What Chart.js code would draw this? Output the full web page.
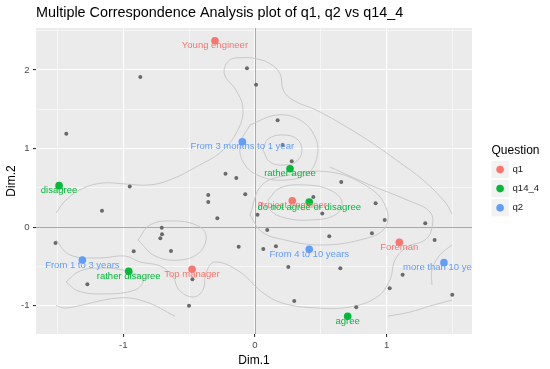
<!DOCTYPE html>
<html><head><meta charset="utf-8">
<script src="https://cdn.jsdelivr.net/npm/chart.js@4.4.0/dist/chart.umd.min.js"></script>
<style>html,body{margin:0;padding:0;background:#fff}</style>
</head><body>
<canvas id="c" width="550" height="369"></canvas>
<script>
// ---- data ----
const q1Cats = ['Young engineer', 'Project engineer', 'Top manager', 'Foreman'];
const q1Dim1 = [-0.304, 0.283, -0.478, 1.096];
const q1Dim2 = [2.372, 0.336, -0.537, -0.193];

const q14Cats = ['disagree', 'rather agree', 'do not agree or disagree', 'rather disagree', 'agree'];
const q14Dim1 = [-1.488, 0.266, 0.412, -0.959, 0.704];
const q14Dim2 = [0.527, 0.743, 0.319, -0.563, -1.135];

const q2Cats = ['From 3 months to 1 year', 'From 4 to 10 years', 'more than 10 years', 'From 1 to 3 years'];
const q2Dim1 = [-0.096, 0.412, 1.435, -1.311];
const q2Dim2 = [1.087, -0.283, -0.453, -0.419];

const indDim1 = [-0.061, 0.008, -0.871, -1.433, 0.172, -0.224, -0.142, -0.951, -0.355, -0.355, -0.074, 0.210, 0.279, 0.655, 0.443,
  -1.162, -0.286, 0.019, 0.093, -0.708, -0.706, -0.719, -1.515, -0.921, -0.638, -0.124, 0.063, 0.159, -1.273, -0.475, -0.501,
  0.916, 0.511, 0.985, 1.293, 0.888, 0.564, 1.364, 0.253, 0.648, 1.121, 1.023, 1.498, 0.298, 0.769];
const indDim2 = [2.021, 1.812, 1.910, 1.189, 1.359, 0.678, 0.625, 0.517, 0.409, 0.319, 0.417, 1.045, 0.837, 0.574, 0.383,
  0.209, 0.112, 0.158, -0.037, -0.008, -0.092, -0.143, -0.202, -0.308, -0.304, -0.249, -0.279, -0.244, -0.728, -0.664, -1.000,
  0.303, 0.173, 0.090, 0.048, -0.079, -0.116, -0.164, -0.508, -0.524, -0.606, -0.779, -0.860, -0.941, -1.021];

// density contour lines (data units)
const contourOuterX = [-1.511, -1.435, -1.308, -1.156, -0.987, -0.805, -0.653, -0.448, -0.245, -0.119, -0.093, -0.144, -0.233, -0.195, -0.093, 0.008, 0.114, 0.190, 0.215, 0.291, 0.468, 0.696, 0.898, 1.076, 1.278, 1.443, 1.496];
const contourOuterY = [0.179, 0.345, 0.491, 0.561, 0.549, 0.536, 0.596, 0.765, 0.977, 1.274, 1.529, 1.741, 1.952, 2.123, 2.156, 2.143, 2.080, 1.952, 1.741, 1.614, 1.487, 1.274, 1.061, 0.850, 0.596, 0.319, 0.167];
const contourPeakX = [0.061, 0.099, 0.213, 0.319, 0.357, 0.319, 0.228, 0.114, 0.061];
const contourPeakY = [0.981, 1.121, 1.172, 1.121, 0.981, 0.841, 0.790, 0.828, 0.981];
const contourRingX = [-0.038, 0.167, 0.342, 0.456, 0.471, 0.395, 0.228, 0.053, -0.076, -0.114, -0.038];
const contourRingY = [1.300, 1.427, 1.363, 1.147, 0.892, 0.676, 0.599, 0.638, 0.791, 1.045, 1.300];
const contourMidLeftX = [-0.888, -0.797, -0.630, -0.448, -0.372, -0.418, -0.569, -0.759, -0.888];
const contourMidLeftY = [-0.164, 0.027, 0.078, 0.027, -0.100, -0.317, -0.419, -0.368, -0.164];
const contourLowLeftX = [-1.435, -1.329, -1.147, -0.949, -0.850, -0.911, -1.147, -1.344, -1.435];
const contourLowLeftY = [-0.699, -0.559, -0.521, -0.571, -0.673, -0.800, -0.851, -0.813, -0.699];
const contourCoreX = [0.099, 0.190, 0.380, 0.569, 0.661, 0.608, 0.418, 0.228, 0.114, 0.099];
const contourCoreY = [0.345, 0.498, 0.536, 0.472, 0.319, 0.154, 0.090, 0.116, 0.218, 0.345];
const contourCentreX = [-0.038, 0.053, 0.266, 0.569, 0.835, 0.987, 0.987, 0.797, 0.494, 0.228, 0.053, -0.038];
const contourCentreY = [0.154, 0.536, 0.663, 0.701, 0.536, 0.281, -0.011, -0.164, -0.228, -0.164, -0.062, 0.154];
const contourLowerX = [-1.511, -1.405, -1.177, -0.987, -0.873, -0.721, -0.623, -0.577, -0.471, -0.395, -0.372, -0.304, -0.114, 0.053, 0.205, 0.471, 0.721, 0.926, 1.025, 1.063, 1.154, 1.291, 1.344, 1.329, 1.154, 0.873, 0.569];
const contourLowerY = [-0.165, -0.355, -0.393, -0.368, -0.444, -0.495, -0.635, -0.801, -0.890, -0.801, -0.584, -0.444, -0.571, -0.826, -0.966, -1.030, -1.017, -0.890, -0.673, -0.419, -0.253, -0.164, -0.011, 0.192, 0.345, 0.536, 0.765];
const contourBottomLeftX = [-1.511, -1.435, -1.033, -0.828, -0.607];
const contourBottomLeftY = [-1.000, -1.030, -0.902, -0.953, -1.135];
const contourBottomRightX = [1.010, 1.177, 1.329, 1.496];
const contourBottomRightY = [-1.133, -1.082, -1.005, -0.929];
const contourRightX = [1.496, 1.405, 1.344, 1.344];
const contourRightY = [-0.227, -0.354, -0.546, -0.737];

const groupNames = ['q1', 'q14_4', 'q2'];
const xMajor = [-1, 0, 1];
const xMinor = [-1.5, -0.5, 0.5, 1.5];
const yMajor = [-1, 0, 1, 2];
const yMinor = [-0.5, 0.5, 1.5, 2.5];

// ---- styles ----
const pointCol = {q1: '#F8766D', 'q14_4': '#00BA38', q2: '#619CFF'};
const FONT = "'Liberation Sans', Arial, Helvetica, sans-serif";

function pts(xs, ys) { return xs.map((x, i) => ({x: x, y: ys[i]})); }

const groups = [
  {name: 'q1', cats: q1Cats, xs: q1Dim1, ys: q1Dim2},
  {name: 'q14_4', cats: q14Cats, xs: q14Dim1, ys: q14Dim2},
  {name: 'q2', cats: q2Cats, xs: q2Dim1, ys: q2Dim2}
];

const datasets = groups.map(g => ({
  label: g.name, data: pts(g.xs, g.ys), cats: g.cats,
  backgroundColor: pointCol[g.name], borderColor: pointCol[g.name], borderWidth: 0,
  pointRadius: 3.8, pointHoverRadius: 3.8
}));
datasets.push({
  label: 'individuals', data: pts(indDim1, indDim2),
  backgroundColor: '#6a6a6a', borderWidth: 0, pointRadius: 2, pointHoverRadius: 2
});
[[contourOuterX, contourOuterY], [contourPeakX, contourPeakY], [contourRingX, contourRingY],
 [contourMidLeftX, contourMidLeftY], [contourLowLeftX, contourLowLeftY], [contourCoreX, contourCoreY],
 [contourCentreX, contourCentreY], [contourLowerX, contourLowerY], [contourBottomLeftX, contourBottomLeftY],
 [contourBottomRightX, contourBottomRightY], [contourRightX, contourRightY]].forEach(([xs, ys]) => {
  datasets.push({
    label: 'contour', data: pts(xs, ys), showLine: true, tension: 0.4,
    borderColor: '#C4C4C4', borderWidth: 0.9, pointRadius: 0, pointHoverRadius: 0, fill: false
  });
});

function tickList(major, minor) {
  return major.concat(minor).sort((a, b) => a - b).map(v => ({value: v}));
}
const isMajor = v => Math.abs(v - Math.round(v)) < 1e-9;

const panelBg = {
  id: 'panelBg',
  beforeDraw(chart) {
    const {ctx, chartArea: a} = chart;
    ctx.save(); ctx.fillStyle = '#EBEBEB';
    ctx.fillRect(a.left, a.top, a.right - a.left, a.bottom - a.top);
    ctx.restore();
  }
};

const refLines = {
  id: 'refLines',
  beforeDatasetsDraw(chart) {
    const {ctx, chartArea: a, scales: {x, y}} = chart;
    ctx.save();
    ctx.strokeStyle = '#A9A9A9'; ctx.lineWidth = 1;
    const px = Math.round(x.getPixelForValue(0)) + 0.5;
    const py = Math.round(y.getPixelForValue(0)) + 0.5;
    ctx.beginPath(); ctx.moveTo(px, a.top); ctx.lineTo(px, a.bottom); ctx.stroke();
    ctx.beginPath(); ctx.moveTo(a.left, py); ctx.lineTo(a.right, py); ctx.stroke();
    ctx.restore();
  }
};

const pointLabels = {
  id: 'pointLabels',
  afterDatasetsDraw(chart) {
    const {ctx, chartArea: a, scales: {x, y}} = chart;
    ctx.save();
    ctx.beginPath(); ctx.rect(a.left, a.top, a.right - a.left, a.bottom - a.top); ctx.clip();
    ctx.font = '9.5px ' + FONT; ctx.textAlign = 'center'; ctx.textBaseline = 'middle';
    groups.forEach(g => {
      ctx.fillStyle = pointCol[g.name];
      g.cats.forEach((c, i) => {
        ctx.fillText(c, x.getPixelForValue(g.xs[i]), y.getPixelForValue(g.ys[i]) + 5);
      });
    });
    ctx.restore();
  }
};

const titleAndLegend = {
  id: 'titleAndLegend',
  afterDraw(chart) {
    const ctx = chart.ctx;
    ctx.save();
    ctx.fillStyle = '#000'; ctx.textBaseline = 'middle'; ctx.textAlign = 'left';
    ctx.font = '14.4px ' + FONT;
    ctx.fillText('Multiple Correspondence Analysis plot of q1, q2 vs q14_4', 36, 13.5);
    ctx.font = '12px ' + FONT;
    ctx.fillText('Question', 491.5, 150.7);
    const ys = [169.5, 188.6, 207.7];
    groupNames.forEach((n, i) => {
      ctx.fillStyle = '#F2F2F2';
      ctx.fillRect(491.5, ys[i] - 8.6, 17.3, 17.3);
      ctx.fillStyle = pointCol[n];
      ctx.beginPath(); ctx.arc(500.1, ys[i], 3.8, 0, Math.PI * 2); ctx.fill();
      ctx.fillStyle = '#1A1A1A'; ctx.font = '9.6px ' + FONT;
      ctx.fillText(n, 512.5, ys[i]);
    });
    ctx.restore();
  }
};

new Chart(document.getElementById('c'), {
  type: 'scatter',
  data: {datasets: datasets},
  plugins: [panelBg, refLines, pointLabels, titleAndLegend],
  options: {
    responsive: false, animation: false, devicePixelRatio: 1,
    layout: {padding: {left: 0, top: 28, right: 78, bottom: 0}},
    plugins: {legend: {display: false}, tooltip: {enabled: false}, title: {display: false}},
    scales: {
      x: {
        type: 'linear', min: -1.663, max: 1.648,
        afterBuildTicks: s => { s.ticks = tickList(xMajor, xMinor); },
        afterFit: s => { s.height = 35; },
        border: {display: false},
        grid: {
          color: '#FFFFFF',
          lineWidth: c => isMajor(c.tick.value) ? 1.1 : 0.55,
          tickColor: c => isMajor(c.tick.value) ? '#333333' : 'rgba(0,0,0,0)',
          tickLength: 3, drawTicks: true
        },
        ticks: {
          autoSkip: false, maxRotation: 0, padding: 3, color: '#4D4D4D',
          font: {size: 9.6, family: FONT},
          callback: v => isMajor(v) ? String(Math.round(v)) : ''
        },
        title: {display: true, text: 'Dim.1', color: '#000', font: {size: 12, family: FONT}, padding: {top: 0, bottom: 1.3}}
      },
      y: {
        type: 'linear', min: -1.361, max: 2.534,
        afterBuildTicks: s => { s.ticks = tickList(yMajor, yMinor); },
        afterFit: s => { s.width = 36; },
        border: {display: false},
        grid: {
          color: '#FFFFFF',
          lineWidth: c => isMajor(c.tick.value) ? 1.1 : 0.55,
          tickColor: c => isMajor(c.tick.value) ? '#333333' : 'rgba(0,0,0,0)',
          tickLength: 3, drawTicks: true
        },
        ticks: {
          autoSkip: false, padding: 3.5, color: '#4D4D4D',
          font: {size: 9.6, family: FONT},
          callback: v => isMajor(v) ? String(Math.round(v)) : ''
        },
        title: {display: true, text: 'Dim.2', color: '#000', font: {size: 12, family: FONT}, padding: {top: 4.8, bottom: 0}}
      }
    }
  }
});
</script>
</body></html>
